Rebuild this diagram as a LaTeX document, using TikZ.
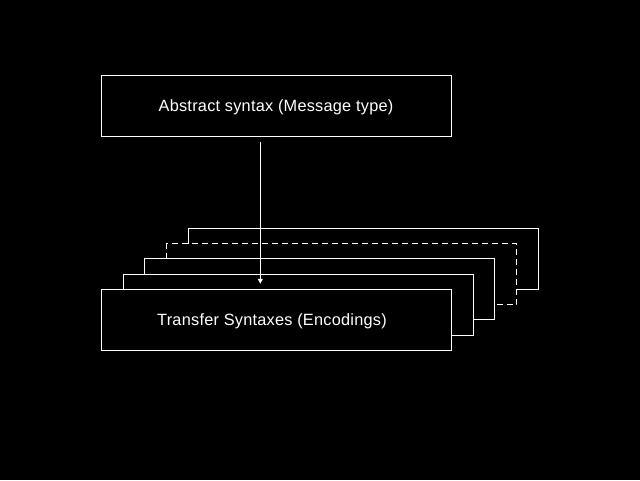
\documentclass[tikz,border=0pt]{standalone}
\usepackage{fontspec}
\setmainfont{Liberation Sans}[LetterSpace=1.5]
\usetikzlibrary{arrows.meta}
\begin{document}
\begin{tikzpicture}[x=1pt,y=-1pt,
  box/.style={draw=white, fill=black, line width=1pt, minimum width=350pt, minimum height=61pt, inner sep=0pt, text=white, text height=12pt, text depth=0pt, font=\fontsize{16.3}{19}\selectfont},
  dashbox/.style={box, dash pattern=on 6pt off 4pt},
  link/.style={draw=white, line width=1pt, -{Triangle[width=5pt,length=5pt]}}]
\useasboundingbox[fill=black] (0,0) rectangle (640,480);
\node[box] (top) at (276,105.75) {Abstract syntax (Message type)};
\node[box] (s5) at (363.25,258.75) {};
\node[dashbox] (s4) at (341.5,274) {};
\node[box] (s3) at (319.75,289.25) {};
\node[box] (s2) at (298,304.5) {};
\node[box] (front) at (276,319.75) {Transfer Syntaxes (Encodings)\kern8pt};
\draw[link, shorten <=5.5pt, shorten >=5pt] ([xshift=-15.7pt]top.south) -- ([xshift=-15.7pt]front.north);
\end{tikzpicture}
\end{document}
